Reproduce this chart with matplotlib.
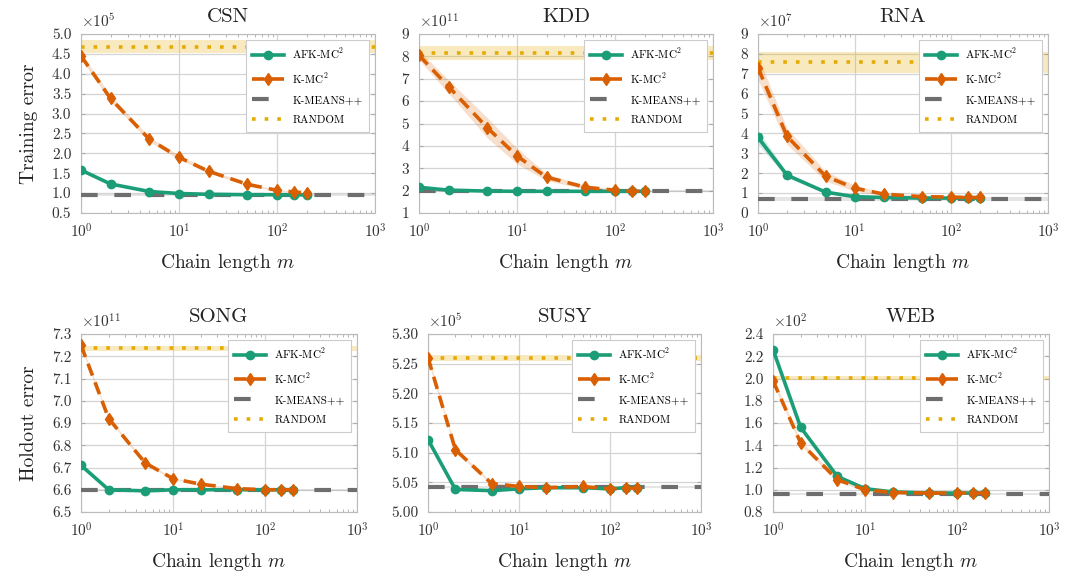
import matplotlib
matplotlib.use("Agg")
from matplotlib import pyplot as plt
import numpy as np

plt.rcParams['font.family'] = 'serif'
plt.rcParams['font.serif'] = ['cmr10', 'DejaVu Serif']
plt.rcParams['mathtext.fontset'] = 'cm'
plt.rcParams['axes.unicode_minus'] = False
plt.rcParams['axes.formatter.use_mathtext'] = True

chain = [1, 2, 5, 10, 20, 50, 100, 150, 200]
names = ["CSN", "KDD", "RNA", "SONG", "SUSY", "WEB"]
exps = [5, 11, 7, 11, 5, 2]

afk = {
    "CSN": [1.58, 1.23, 1.04, 0.99, 0.97, 0.96, 0.96, 0.955, 0.955],
    "KDD": [2.15, 2.02, 1.98, 1.97, 1.97, 1.97, 1.97, 1.97, 1.97],
    "RNA": [3.8, 1.9, 1.05, 0.82, 0.78, 0.75, 0.75, 0.75, 0.75],
    "SONG": [6.71, 6.60, 6.595, 6.60, 6.60, 6.60, 6.60, 6.60, 6.60],
    "SUSY": [5.122, 5.038, 5.036, 5.039, 5.041, 5.041, 5.039, 5.041, 5.041],
    "WEB": [2.26, 1.56, 1.12, 1.01, 0.98, 0.97, 0.97, 0.97, 0.97],
}
afk_err = {
    "CSN": [0.04, 0.02, 0.01, 0.01, 0.01, 0.01, 0.01, 0.01, 0.01],
    "KDD": [0.08, 0.04, 0.03, 0.03, 0.03, 0.03, 0.03, 0.03, 0.03],
    "RNA": [0.35, 0.12, 0.06, 0.04, 0.03, 0.03, 0.03, 0.03, 0.03],
    "SONG": [0.012, 0.003, 0.002, 0.002, 0.002, 0.002, 0.002, 0.002, 0.002],
    "SUSY": [0.004, 0.001, 0.001, 0.001, 0.001, 0.001, 0.001, 0.001, 0.001],
    "WEB": [0.02, 0.01, 0.01, 0.005, 0.005, 0.005, 0.005, 0.005, 0.005],
}
kmc = {
    "CSN": [4.45, 3.38, 2.35, 1.90, 1.55, 1.22, 1.07, 1.03, 1.00],
    "KDD": [8.05, 6.65, 4.8, 3.55, 2.6, 2.15, 2.02, 1.97, 1.97],
    "RNA": [7.3, 3.85, 1.85, 1.25, 0.95, 0.82, 0.80, 0.78, 0.78],
    "SONG": [7.25, 6.92, 6.72, 6.65, 6.625, 6.605, 6.60, 6.60, 6.60],
    "SUSY": [5.26, 5.105, 5.048, 5.043, 5.041, 5.043, 5.039, 5.040, 5.040],
    "WEB": [1.98, 1.42, 1.09, 1.00, 0.975, 0.97, 0.97, 0.97, 0.97],
}
kmc_err = {
    "CSN": [0.08, 0.07, 0.06, 0.05, 0.04, 0.03, 0.02, 0.02, 0.02],
    "KDD": [0.2, 0.3, 0.45, 0.35, 0.15, 0.08, 0.05, 0.04, 0.04],
    "RNA": [0.6, 0.4, 0.25, 0.15, 0.08, 0.05, 0.04, 0.04, 0.04],
    "SONG": [0.01, 0.006, 0.006, 0.004, 0.003, 0.003, 0.002, 0.002, 0.002],
    "SUSY": [0.006, 0.003, 0.002, 0.001, 0.001, 0.001, 0.001, 0.001, 0.001],
    "WEB": [0.03, 0.02, 0.015, 0.01, 0.005, 0.005, 0.005, 0.005, 0.005],
}
kmeanspp = {"CSN": 0.95, "KDD": 1.97, "RNA": 0.72, "SONG": 6.60, "SUSY": 5.042, "WEB": 0.965}
kmeanspp_err = {"CSN": 0.03, "KDD": 0.04, "RNA": 0.1, "SONG": 0.004, "SUSY": 0.002, "WEB": 0.01}
random_ = {"CSN": 4.68, "KDD": 8.15, "RNA": 7.6, "SONG": 7.235, "SUSY": 5.259, "WEB": 2.005}
random_lo = {"CSN": 4.51, "KDD": 7.85, "RNA": 7.05, "SONG": 7.225, "SUSY": 5.254, "WEB": 1.99}
random_hi = {"CSN": 4.84, "KDD": 8.45, "RNA": 8.1, "SONG": 7.245, "SUSY": 5.264, "WEB": 2.02}

ylims = {"CSN": (0.5, 5.0), "KDD": (1, 9), "RNA": (0, 9), "SONG": (6.5, 7.3),
         "SUSY": (5.0, 5.3), "WEB": (0.8, 2.4)}
yticks = {"CSN": np.arange(0.5, 5.01, 0.5), "KDD": np.arange(1, 10), "RNA": np.arange(0, 10),
          "SONG": np.arange(6.5, 7.31, 0.1), "SUSY": np.arange(5.0, 5.301, 0.05),
          "WEB": np.arange(0.8, 2.41, 0.2)}
yfmt = {"CSN": "%.1f", "KDD": "%d", "RNA": "%d", "SONG": "%.1f", "SUSY": "%.2f", "WEB": "%.1f"}

# axes boxes in pixels (left, top, right, bottom)
boxes = [(81, 34, 375, 213), (419, 34, 713, 213), (758, 34, 1048, 213),
         (81, 334, 357, 512), (428, 334, 701, 512), (773, 334, 1049, 512)]

green = "#1b9e77"
orange = "#d95f02"
gray = "#6e6e6e"
yellow = "#e6ab02"

W, H = 1068, 580
fig = plt.figure(figsize=(W / 100, H / 100), dpi=100)

for i, name in enumerate(names):
    l, t, r, b = boxes[i]
    ax = fig.add_axes([l / W, 1 - b / H, (r - l) / W, (b - t) / H])
    x = np.array(chain)
    xs = np.array([1, 1000])

    ax.fill_between(xs, random_lo[name], random_hi[name], color=yellow, alpha=0.25, lw=0)
    ax.fill_between(xs, kmeanspp[name] - kmeanspp_err[name], kmeanspp[name] + kmeanspp_err[name],
                    color="#999999", alpha=0.25, lw=0)
    a = np.array(afk[name]); ae = np.array(afk_err[name])
    k = np.array(kmc[name]); ke = np.array(kmc_err[name])
    ax.fill_between(x, a - ae, a + ae, color=green, alpha=0.2, lw=0)
    ax.fill_between(x, k - ke, k + ke, color=orange, alpha=0.2, lw=0)

    ax.plot(x, a, color=green, lw=2.6, marker="o", ms=6, label=r"AFK-MC$^2$", zorder=4)
    ax.plot(x, k, color=orange, lw=2.6, ls=(0, (3.5, 2)), marker="d", ms=6,
            label=r"K-MC$^2$", zorder=5)
    ax.plot(xs, [kmeanspp[name]] * 2, color=gray, lw=3, ls=(0, (4, 4)), label="K-MEANS++", zorder=3)
    ax.plot(xs, [random_[name]] * 2, color=yellow, lw=2.6, ls=(0, (1, 2.5)), label="RANDOM", zorder=3)

    ax.set_xscale("log")
    ax.set_xlim(1, 1000)
    ax.set_ylim(*ylims[name])
    ax.set_yticks(yticks[name])
    ax.set_yticklabels([yfmt[name] % v for v in yticks[name]])
    ax.set_xticks([1, 10, 100, 1000])
    ax.set_xticklabels([r"$10^{0}$", r"$10^{1}$", r"$10^{2}$", r"$10^{3}$"])
    ax.grid(True, which="major", color="#d4d4d4", lw=0.9)
    ax.set_axisbelow(True)
    for s in ax.spines.values():
        s.set_color("#bbbbbb")
        s.set_linewidth(0.8)
    ax.tick_params(which="both", direction="in", top=True, right=True, color="#aaaaaa",
                   labelsize=11, labelcolor="#333333")
    ax.tick_params(which="major", length=0, pad=7)
    ax.tick_params(which="minor", length=2.5)
    ax.tick_params(axis="y", which="major", length=3)

    ax.set_title(name, fontsize=15, color="#222222", pad=9)
    ax.text(0.0, 1.02, r"$\times10^{%d}$" % exps[i], transform=ax.transAxes,
            fontsize=11, color="#333333", ha="left", va="bottom")
    ax.set_xlabel(r"Chain length $m$", fontsize=14, color="#222222", labelpad=8)
    if i == 0:
        ax.set_ylabel("Training error", fontsize=14, color="#222222", labelpad=10)
    if i == 3:
        ax.set_ylabel("Holdout error", fontsize=14, color="#222222", labelpad=10)

    leg = ax.legend(loc="upper right", fontsize=8, handlelength=2.8, borderaxespad=0.5,
                    fancybox=False, framealpha=1, edgecolor="#cccccc", labelspacing=0.9,
                    borderpad=0.6)
    leg.get_frame().set_linewidth(0.8)

plt.savefig("out.png", dpi=100)
